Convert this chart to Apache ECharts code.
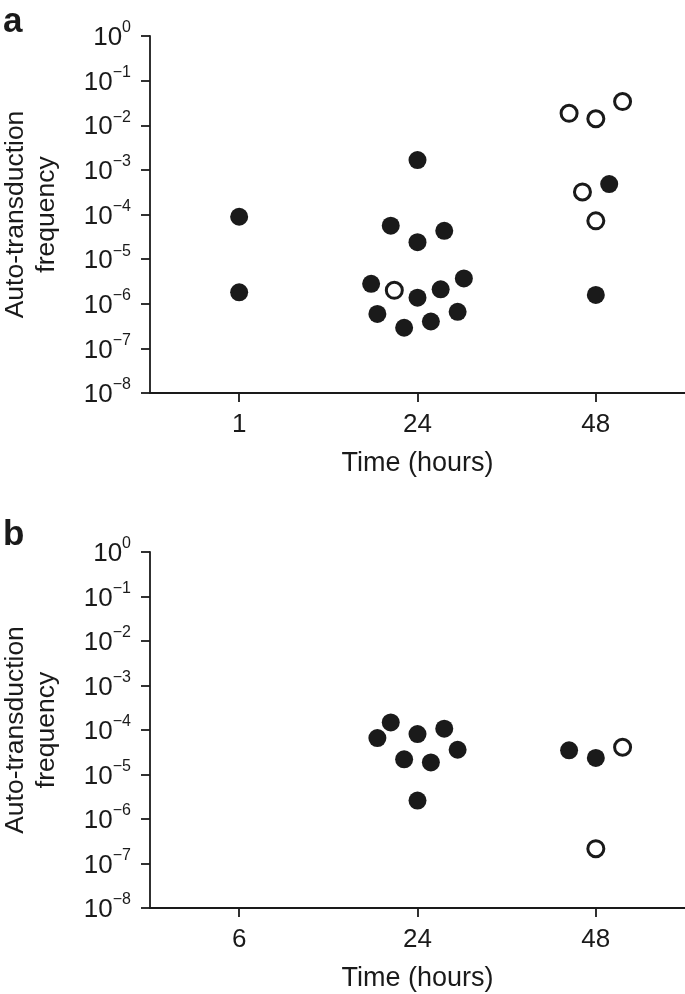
<!DOCTYPE html>
<html>
<head>
<meta charset="utf-8">
<script src="https://cdn.jsdelivr.net/npm/echarts@6/dist/echarts.min.js"></script>
<style>
  html, body { margin: 0; padding: 0; background: #fff; }
  #chart { width: 685px; height: 994px; }
</style>
</head>
<body>
<div id="chart"></div>
<script>
// ---- Data ----
// Panel a
const timeLabelsA = ['1', '24', '48'];
// [timeIndex, horizontal jitter (fraction of category spacing), frequency]
const aFilled = [
  [0, 0, 8.9e-5], [0, 0, 1.8e-6],
  [1, 0, 1.66e-3], [1, -0.15, 5.6e-5], [1, 0, 2.4e-5], [1, 0.15, 4.3e-5],
  [1, -0.26, 2.8e-6], [1, 0, 1.37e-6], [1, 0.13, 2.1e-6], [1, 0.26, 3.7e-6],
  [1, -0.225, 5.9e-7], [1, -0.075, 2.9e-7], [1, 0.075, 4.0e-7], [1, 0.225, 6.6e-7],
  [2, 0.075, 4.8e-4], [2, 0, 1.58e-6]
];
const aOpen = [
  [1, -0.13, 2.0e-6],
  [2, -0.15, 1.85e-2], [2, 0, 1.4e-2], [2, 0.15, 3.4e-2],
  [2, -0.075, 3.2e-4], [2, 0, 7.2e-5]
];
// Panel b
const timeLabelsB = ['6', '24', '48'];
const bFilled = [
  [1, -0.15, 1.48e-4], [1, -0.225, 6.6e-5], [1, 0, 8.1e-5], [1, 0.15, 1.07e-4],
  [1, 0.225, 3.6e-5], [1, -0.075, 2.2e-5], [1, 0.075, 1.87e-5], [1, 0, 2.6e-6],
  [2, -0.15, 3.5e-5], [2, 0, 2.35e-5]
];
const bOpen = [
  [2, 0.15, 4.1e-5], [2, 0, 2.15e-7]
];
// y tick exponents
const yExponents = [-8, -7, -6, -5, -4, -3, -2, -1, 0];
const yTitle = 'Auto-transduction\nfrequency';
const xTitle = 'Time (hours)';
const panelLabels = ['a', 'b'];

// ---- Styling ----
const FONT = 'Liberation Sans, Arial, Helvetica, sans-serif';
const INK = '#1a1a1a';

function toXY(arr) {
  return arr.map(d => [d[0] + d[1], d[2]]);
}

function yFormatter(v) {
  const e = Math.round(Math.log10(v));
  const s = e < 0 ? '\u2212' + Math.abs(e) : String(e);
  return '{b|10}{s|' + s + '}';
}

function makeY(gridIndex) {
  return {
    type: 'log', logBase: 10, gridIndex: gridIndex,
    min: Math.pow(10, yExponents[0]), max: Math.pow(10, yExponents[yExponents.length - 1]),
    interval: 1,
    name: yTitle, nameLocation: 'middle', nameRotate: 90, nameGap: 88,
    nameTextStyle: { fontFamily: FONT, fontSize: 26.5, color: INK, lineHeight: 31 },
    axisLine: { show: true, onZero: false, lineStyle: { color: INK, width: 1.8 } },
    axisTick: { show: true, length: 9, lineStyle: { color: INK, width: 1.8 } },
    axisLabel: {
      formatter: yFormatter, margin: 19,
      rich: {
        b: { fontFamily: FONT, fontSize: 26, color: INK, lineHeight: 32, padding: [4, 0, 0, 0] },
        s: { fontFamily: FONT, fontSize: 16, color: INK, lineHeight: 16, verticalAlign: 'top' }
      }
    },
    splitLine: { show: false }, minorTick: { show: false }
  };
}

function makeCatX(gridIndex, labels) {
  return {
    type: 'category', gridIndex: gridIndex, data: labels, boundaryGap: true,
    name: xTitle, nameLocation: 'middle', nameGap: 57,
    nameTextStyle: { fontFamily: FONT, fontSize: 27, color: INK },
    axisLine: { show: true, onZero: false, lineStyle: { color: INK, width: 1.8 } },
    axisTick: { show: true, alignWithLabel: true, length: 9, lineStyle: { color: INK, width: 1.8 } },
    axisLabel: { fontFamily: FONT, fontSize: 26, color: INK, margin: 19 },
    splitLine: { show: false }
  };
}

function makeValX(gridIndex) {
  return { type: 'value', gridIndex: gridIndex, min: -0.5, max: 2.5, show: false,
    axisLine: { onZero: false }, splitLine: { show: false } };
}

function filledSeries(data, xi, yi) {
  return { type: 'scatter', xAxisIndex: xi, yAxisIndex: yi, data: toXY(data),
    symbol: 'circle', symbolSize: 18, itemStyle: { color: INK, opacity: 1 }, silent: true };
}
function openSeries(data, xi, yi) {
  return { type: 'scatter', xAxisIndex: xi, yAxisIndex: yi, data: toXY(data),
    symbol: 'circle', symbolSize: 16,
    itemStyle: { color: '#fff', borderColor: INK, borderWidth: 3, opacity: 1 }, silent: true };
}

const chart = echarts.init(document.getElementById('chart'), null, { renderer: 'canvas' });
chart.setOption({
  animation: false,
  backgroundColor: '#fff',
  textStyle: { fontFamily: FONT },
  grid: [
    { left: 150, right: 0, top: 36, height: 357, containLabel: false, outerBoundsMode: 'none' },
    { left: 150, right: 0, top: 552, height: 356, containLabel: false, outerBoundsMode: 'none' }
  ],
  xAxis: [makeCatX(0, timeLabelsA), makeValX(0), makeCatX(1, timeLabelsB), makeValX(1)],
  yAxis: [makeY(0), makeY(1)],
  series: [
    filledSeries(aFilled, 1, 0), openSeries(aOpen, 1, 0),
    filledSeries(bFilled, 3, 1), openSeries(bOpen, 3, 1)
  ],
  graphic: [
    { type: 'text', left: 3, top: 5, style: { text: panelLabels[0], font: 'bold 35px ' + FONT, fill: INK } },
    { type: 'text', left: 3, top: 518, style: { text: panelLabels[1], font: 'bold 35px ' + FONT, fill: INK } }
  ]
});
</script>
</body>
</html>
